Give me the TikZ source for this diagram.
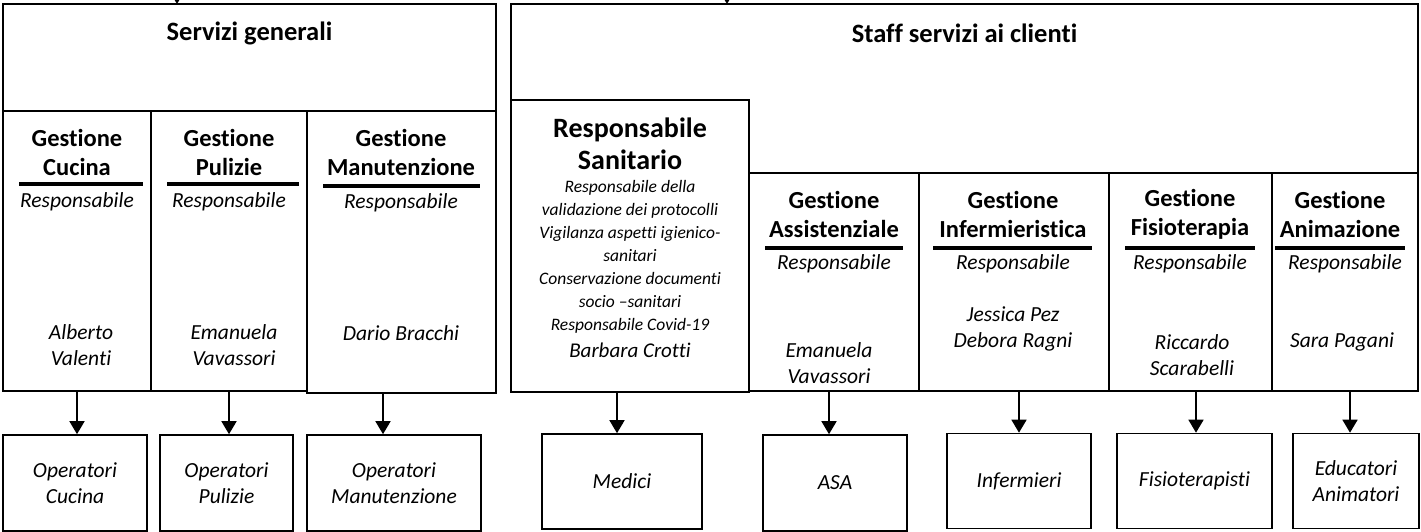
\documentclass[tikz,border=0pt]{standalone}
\usepackage{fontspec}
\setmainfont{Carlito}[Ligatures={NoCommon}]
\usetikzlibrary{arrows.meta}
\begin{document}
\begin{tikzpicture}[x=1pt,y=-1pt,
  box/.style={draw=black,line width=1.6pt,fill=white},
  ttl/.style={font=\fontsize{26.5}{30}\selectfont\bfseries,align=center,inner sep=0pt},
  head/.style={font=\fontsize{24.5}{29}\selectfont\bfseries,align=center,inner sep=0pt},
  resp/.style={font=\fontsize{21.5}{25.5}\selectfont\itshape,align=center,inner sep=0pt},
  desc/.style={font=\fontsize{17.5}{23}\selectfont\itshape,align=center,inner sep=0pt},
  uline/.style={line width=3.6pt},
  conn/.style={line width=1.6pt,-{Triangle[length=13pt,width=15pt]}},
]
\useasboundingbox (0,0) rectangle (1421,532);

% ---------- Servizi generali ----------
\draw[box] (3,4) rectangle (496,111);
\node[ttl] (sg) at (249.5,33) {Servizi generali};
\coordinate (sgin) at (177,-20);
\draw[conn] (sgin) -- (177,4);

\draw[box] (3,111) rectangle (151,391);
\draw[box] (151,111) rectangle (307,391);
\draw[box] (307,111) rectangle (496,393);
\coordinate (gc) at (77,391);
\coordinate (gp) at (229,391);
\coordinate (gm) at (383,393);

\node[head] (gch) at (77,152) {Gestione\\Cucina};
\node[head] (gph) at (229,152) {Gestione\\Pulizie};
\node[head] (gmh) at (401,152) {Gestione\\Manutenzione};
\draw[uline] (19,184) -- (143,184);
\draw[uline] (167,184) -- (299,184);
\draw[uline] (323,186) -- (480,186);
\node[resp] (gcr) at (77,202) {Responsabile};
\node[resp] (gpr) at (229,202) {Responsabile};
\node[resp] (gmr) at (401,203) {Responsabile};
\node[resp] (gcn) at (81,345) {Alberto\\Valenti};
\node[resp] (gpn) at (234,345) {Emanuela\\Vavassori};
\node[resp] (gmn) at (401,333) {Dario Bracchi};

\node[box,minimum width=144pt,minimum height=96pt,inner sep=0pt] (oc) at (75,483) {};
\node[resp] at (oc) {Operatori\\Cucina};
\node[box,minimum width=133pt,minimum height=96pt,inner sep=0pt] (op) at (226.5,483) {};
\node[resp] at (op) {Operatori\\Pulizie};
\node[box,minimum width=174pt,minimum height=96pt,inner sep=0pt] (om) at (394,483) {};
\node[resp] at (om) {Operatori\\Manutenzione};

\draw[conn] (gc) -- (gc |- oc.north);
\draw[conn] (gp) -- (gp |- op.north);
\draw[conn] (gm) -- (gm |- om.north);

% ---------- Staff servizi ai clienti ----------
\draw[box] (511,4) rectangle (1418,173);
\node[ttl] (ss) at (964.5,33) {Staff servizi ai clienti};
\coordinate (ssin) at (727,-20);
\draw[conn] (ssin) -- (727,4);

\draw[box] (511,100) rectangle (749,392);
\node[font=\fontsize{28}{32}\selectfont\bfseries,align=center,inner sep=0pt] (rsh) at (630,144) {Responsabile\\Sanitario};
\node[desc] (rsd) at (630,257) {Responsabile della\\validazione dei protocolli\\Vigilanza aspetti igienico-\\sanitari\\Conservazione documenti\\socio –sanitari\\Responsabile Covid-19};
\node[font=\fontsize{21}{25}\selectfont\itshape,inner sep=0pt] (rsn) at (630,350) {Barbara Crotti};
\coordinate (rs) at (617,392);

\draw[box] (749,173) rectangle (919,391);
\draw[box] (919,173) rectangle (1109,391);
\draw[box] (1109,173) rectangle (1272,391);
\draw[box] (1272,173) rectangle (1418,391);
\coordinate (ga) at (829,391);
\coordinate (gi) at (1019,391);
\coordinate (gf) at (1196,391);
\coordinate (gn) at (1350,391);

\node[head] (gah) at (834,214) {Gestione\\Assistenziale};
\node[head] (gih) at (1013,214) {Gestione\\Infermieristica};
\node[head] (gfh) at (1190,214) {Gestione\\Fisioterapia};
\node[head] (gnh) at (1340,214) {Gestione\\Animazione};
\draw[uline] (765,248) -- (903,248);
\draw[uline] (933,248) -- (1092,248);
\draw[uline] (1125,248) -- (1255,248);
\draw[uline] (1275,248) -- (1405,248);
\node[resp] (gar) at (834,264) {Responsabile};
\node[resp] (gir) at (1013,264) {Responsabile};
\node[resp] (gfr) at (1190,264) {Responsabile};
\node[resp] (gnr) at (1345,264) {Responsabile};
\node[resp] (gan) at (829,363) {Emanuela\\Vavassori};
\node[resp] (gin) at (1013,329) {Jessica Pez\\Debora Ragni};
\node[resp] (gfn) at (1192,355) {Riccardo\\Scarabelli};
\node[resp] (gnn) at (1342,342) {Sara Pagani};

\node[box,minimum width=160pt,minimum height=95pt,inner sep=0pt] (me) at (622,481.5) {};
\node[resp] at (me) {Medici};
\node[box,minimum width=144pt,minimum height=96pt,inner sep=0pt] (as) at (835,483) {};
\node[resp] at (as) {ASA};
\node[box,minimum width=144pt,minimum height=95pt,inner sep=0pt] (in) at (1019,481) {};
\node[resp] at (in) {Infermieri};
\node[box,minimum width=155pt,minimum height=95pt,inner sep=0pt] (fi) at (1194.5,481) {};
\node[resp] at (fi) {Fisioterapisti};
\node[box,minimum width=126pt,minimum height=95pt,inner sep=0pt] (ed) at (1356,481) {};
\node[resp] at (ed) {Educatori\\Animatori};

\draw[conn] (rs) -- (rs |- me.north);
\draw[conn] (ga) -- (ga |- as.north);
\draw[conn] (gi) -- (gi |- in.north);
\draw[conn] (gf) -- (gf |- fi.north);
\draw[conn] (gn) -- (gn |- ed.north);
\end{tikzpicture}
\end{document}
